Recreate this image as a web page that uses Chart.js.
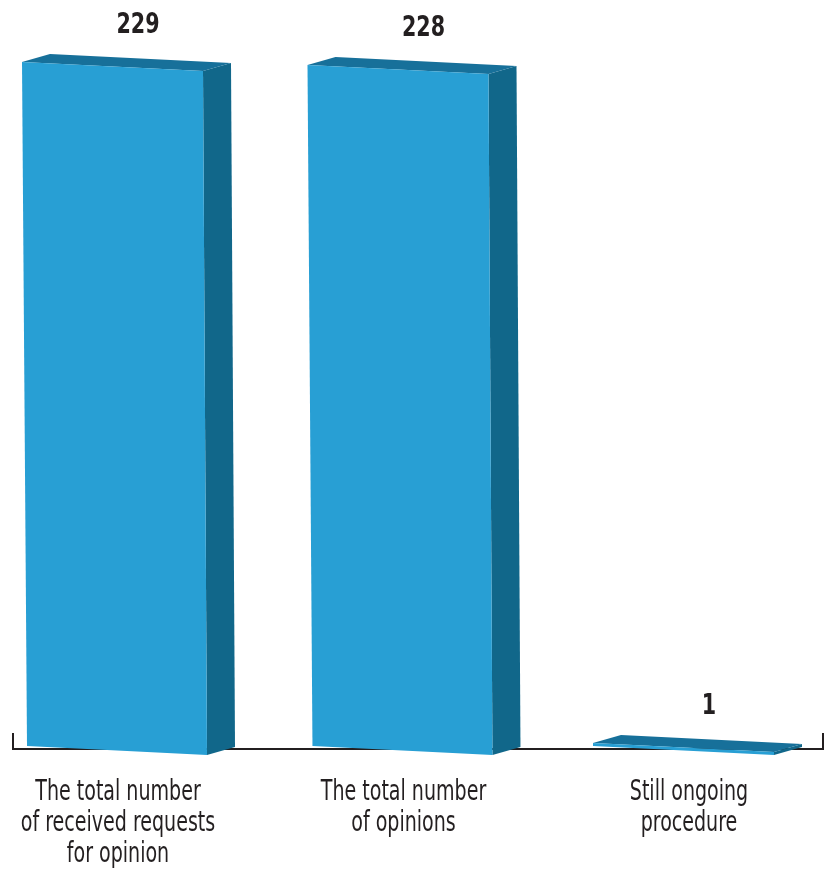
<!DOCTYPE html>
<html>
<head>
<meta charset="utf-8">
<script src="https://cdn.jsdelivr.net/npm/chart.js@4/dist/chart.umd.min.js"></script>
<style>
  html, body { margin: 0; padding: 0; background: #fff; }
  #wrap { width: 827px; height: 869px; }
</style>
</head>
<body>
<div id="wrap"><canvas id="requestsChart" width="827" height="869"></canvas></div>
<script>
// Opinion requests summary
const categories = [
  ['The total number', 'of received requests', 'for opinion'],
  ['The total number', 'of opinions'],
  ['Still ongoing', 'procedure']
];
const counts = [229, 228, 1];

const FRONT = '#289fd4';
const SIDE = '#11678a';
const TOP = '#17709a';
const INK = '#231f20';
const CONDENSED = "'DejaVu Sans Condensed', 'DejaVu Sans', sans-serif";

function quad(ctx, pts, fill) {
  ctx.beginPath();
  ctx.moveTo(pts[0][0], pts[0][1]);
  for (let i = 1; i < pts.length; i++) ctx.lineTo(pts[i][0], pts[i][1]);
  ctx.closePath();
  ctx.fillStyle = fill;
  ctx.fill();
}

// squeezed text, closer to a condensed face
function narrowText(ctx, text, x, y, squeeze) {
  ctx.save();
  ctx.translate(x, y);
  ctx.scale(squeeze, 1);
  ctx.fillText(text, 0, 0);
  ctx.restore();
}

// flat baseline with little ticks at both ends, plus category names
const baseLine = {
  id: 'baseLine',
  beforeDatasetsDraw(chart) {
    const ctx = chart.ctx;
    const y = chart.scales.y.getPixelForValue(0) + 3;
    ctx.save();
    ctx.strokeStyle = INK;
    ctx.lineWidth = 2;
    ctx.beginPath();
    ctx.moveTo(13, y - 16);
    ctx.lineTo(13, y);
    ctx.lineTo(823, y);
    ctx.lineTo(823, y - 16);
    ctx.stroke();

    ctx.fillStyle = INK;
    ctx.font = "29px " + CONDENSED;
    ctx.textAlign = 'center';
    ctx.textBaseline = 'alphabetic';
    const xs = chart.scales.x;
    chart.data.labels.forEach((lines, i) => {
      const cx = xs.getPixelForValue(i) + 2;
      lines.forEach((line, j) => narrowText(ctx, line, cx, y + 51 + j * 31, 0.73));
    });
    ctx.restore();
  }
};

// perspective boxes: skewed front, dark right side and lid
const boxes = {
  id: 'boxes',
  afterDatasetsDraw(chart) {
    const ctx = chart.ctx;
    const meta = chart.getDatasetMeta(0);
    const dx = 28, dy = -8;
    ctx.save();
    meta.data.forEach((bar, i) => {
      const h = bar.base - bar.y;
      const lean = 5 * h / 684;
      const xL = bar.x - 94, xR = xL + 181;
      const tl = [xL, bar.y];
      const tr = [xR, bar.y + 9];
      const br = [xR + lean * 0.8, bar.base + 9];
      const bl = [xL + lean, bar.base];
      quad(ctx, [tr, [tr[0] + dx, tr[1] + dy], [br[0] + dx, br[1] + dy], br], SIDE);
      quad(ctx, [tl, [tl[0] + dx, tl[1] + dy], [tr[0] + dx, tr[1] + dy], tr], TOP);
      quad(ctx, [tl, tr, br, bl], FRONT);

      ctx.fillStyle = INK;
      ctx.font = "bold 28px " + CONDENSED;
      ctx.textAlign = 'center';
      ctx.textBaseline = 'alphabetic';
      narrowText(ctx, String(counts[i]), bar.x + 22, bar.y - 29, 0.82);
    });
    ctx.restore();
  }
};

new Chart(document.getElementById('requestsChart'), {
  type: 'bar',
  data: {
    labels: categories,
    datasets: [{
      data: counts,
      backgroundColor: 'rgba(0,0,0,0)',
      borderWidth: 0,
      clip: false
    }]
  },
  options: {
    responsive: false,
    animation: false,
    layout: { padding: { left: 116, right: 140, top: 62, bottom: 123 } },
    plugins: { legend: { display: false }, tooltip: { enabled: false } },
    scales: {
      x: {
        display: false,
        offset: false
      },
      y: {
        display: false,
        min: 0,
        max: 229
      }
    }
  },
  plugins: [baseLine, boxes]
});
</script>
</body>
</html>
